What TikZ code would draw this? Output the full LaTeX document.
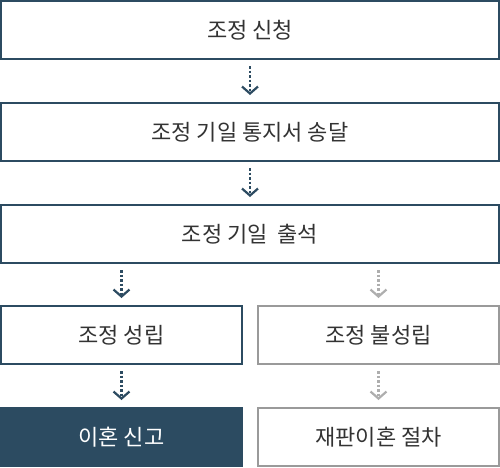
\documentclass[tikz,border=0pt]{standalone}
\usepackage{fontspec}
\setmainfont{Noto Sans CJK KR}
\usetikzlibrary{arrows.meta}
\definecolor{navy}{HTML}{2C4B61}
\definecolor{ash}{HTML}{9A9A9A}
\definecolor{ink}{HTML}{333333}
\tikzset{
  darkbox/.style={draw=navy, line width=2pt, inner sep=0pt, outer sep=0pt, text=ink, font=\fontsize{22}{24}\selectfont},
  graybox/.style={darkbox, draw=ash},
  filledbox/.style={darkbox, fill=navy, text=white},
  wide/.style={minimum width=498pt, minimum height=58pt},
  half/.style={minimum width=241pt, minimum height=58pt},
  darkarrow/.style={draw=navy, line width=2.5pt, dash pattern=on 2.5pt off 2pt,
    -{Straight Barb[length=7pt, width=16pt, line width=2.2pt]}, shorten <=7pt, shorten >=8pt},
  grayarrow/.style={darkarrow, draw=ash!80}
}
\begin{document}
\begin{tikzpicture}[x=1pt, y=1pt]
      \useasboundingbox (0,0) rectangle (500,-467);
      \draw (250,-30) node[darkbox, wide] (apply) {조정 신청};
      \draw (250,-132) node[darkbox, wide] (notice) {조정 기일 통지서 송달};
      \draw (250,-234) node[darkbox, wide] (hearing) {조정 기일\ \ 출석};
      \draw (121.5,-335) node[darkbox, half] (agree) {조정 성립};
      \draw (378.5,-335) node[graybox, half] (fail) {조정 불성립};
      \draw (121.5,-437) node[filledbox, half] (report) {이혼 신고};
      \draw (378.5,-437) node[graybox, half] (trial) {재판이혼 절차};

      \draw[darkarrow] (apply) -- (notice);
      \draw[darkarrow] (notice) -- (hearing);
      \draw[darkarrow] (hearing.south -| agree) -- (agree);
      \draw[grayarrow] (hearing.south -| fail) -- (fail);
      \draw[darkarrow] (agree) -- (report);
      \draw[grayarrow] (fail) -- (trial);
    \end{tikzpicture}
\end{document}
